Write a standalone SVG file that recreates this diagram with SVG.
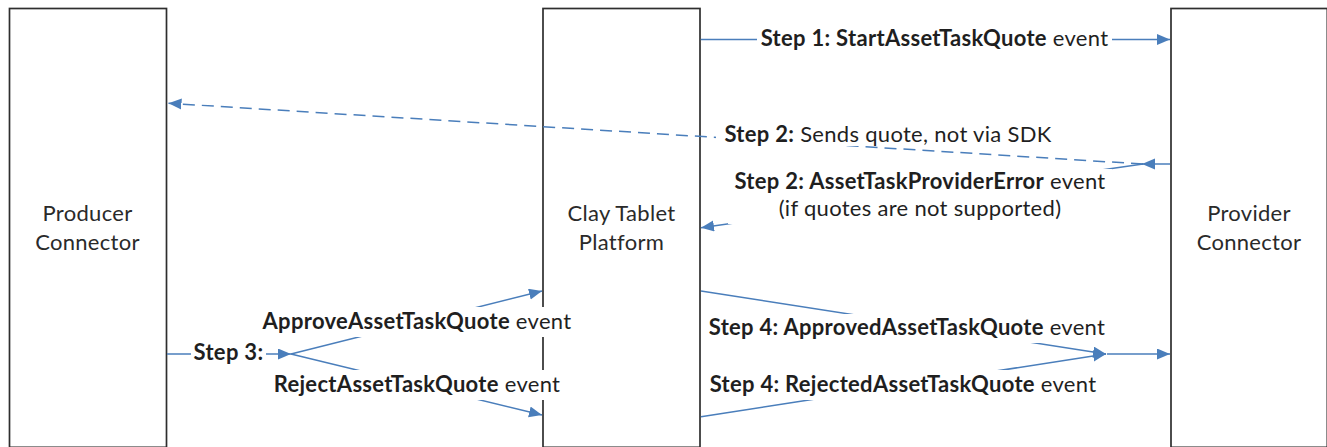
<svg xmlns="http://www.w3.org/2000/svg" width="1327" height="447" viewBox="0 0 1327 447">
<style>
  .box { fill: #ffffff; stroke: #2e2e2e; stroke-width: 1.7; }
  .conn { fill: none; stroke: #4A7EBB; stroke-width: 1.5; }
  .dash { stroke-dasharray: 12 7; }
  .bg { fill: #ffffff; stroke: none; }
  text { font-family: "Lato", "Carlito", "Liberation Sans", sans-serif; font-size: 22px; letter-spacing: 0.3px; fill: #1f1f1f; }
  .node { fill: #2a2a2a; text-anchor: middle; }
  .lbl { text-anchor: middle; }
  .b { font-weight: 700; }
</style>
<defs>
  <marker id="arrow" markerUnits="userSpaceOnUse" markerWidth="14" markerHeight="12" refX="13" refY="5.5" orient="auto" viewBox="0 0 14 12">
    <path d="M0,0 L13,5.5 L0,11 z" fill="#4A7EBB"/>
  </marker>
</defs>
<rect x="0" y="0" width="1327" height="447" fill="#ffffff"/>

<g id="producer-connector">
  <rect class="box" x="9.5" y="8.5" width="157" height="438.8"/>
  <text class="node" x="87.5" y="220.5">Producer</text>
  <text class="node" x="87.5" y="250">Connector</text>
</g>
<g id="clay-tablet-platform">
  <rect class="box" x="543" y="8.5" width="157" height="438.8"/>
  <text class="node" x="621.5" y="220.5">Clay Tablet</text>
  <text class="node" x="621.5" y="250">Platform</text>
</g>
<g id="provider-connector">
  <rect class="box" x="1171" y="8.5" width="156.3" height="438.8"/>
  <text class="node" x="1249" y="220.5">Provider</text>
  <text class="node" x="1249" y="250">Connector</text>
</g>

<g id="connectors">
  <path id="step1" class="conn" d="M700.8,39.5 L1170,39.5" marker-end="url(#arrow)"/>
  <path id="step2-in" class="conn" d="M1170,164 L1142,164" marker-end="url(#arrow)"/>
  <path id="step2-quote" class="conn dash" d="M1143,164 L168.5,103.3" marker-end="url(#arrow)"/>
  <path id="step2-error" class="conn" d="M1143,164 L701,227.8" marker-end="url(#arrow)"/>
  <path id="step3-in" class="conn" d="M167,354 L291,354" marker-end="url(#arrow)"/>
  <path id="step3-approve" class="conn" d="M291,354 L542,291" marker-end="url(#arrow)"/>
  <path id="step3-reject" class="conn" d="M291,354 L542,415" marker-end="url(#arrow)"/>
  <path id="step4-approved" class="conn" d="M701,291 L1106,354" marker-end="url(#arrow)"/>
  <path id="step4-rejected" class="conn" d="M701,416.7 L1106,354" marker-end="url(#arrow)"/>
  <path id="step4-out" class="conn" d="M1107,354 L1170,354" marker-end="url(#arrow)"/>

  <g id="label-step1">
    <rect class="bg" x="757" y="28" width="355" height="23"/>
    <text class="lbl" x="934.5" y="45.5"><tspan class="b">Step 1: StartAssetTaskQuote</tspan> event</text>
  </g>
  <g id="label-step2-quote">
    <rect class="bg" x="716" y="124" width="336" height="22"/>
    <text class="lbl" x="888" y="142"><tspan class="b">Step 2:</tspan> Sends quote, not via SDK</text>
  </g>
  <g id="label-step2-error">
    <rect class="bg" x="728" y="169" width="384" height="55"/>
    <text class="lbl" x="920" y="188.5"><tspan class="b">Step 2: AssetTaskProviderError</tspan> event</text>
    <text class="lbl" x="920" y="216">(if quotes are not supported)</text>
  </g>
  <g id="label-step3">
    <rect class="bg" x="191" y="340" width="75" height="28"/>
    <text class="lbl" x="228.5" y="360"><tspan class="b">Step 3:</tspan></text>
  </g>
  <g id="label-approve">
    <rect class="bg" x="257" y="307" width="321" height="30"/>
    <text class="lbl" x="417" y="328.5"><tspan class="b">ApproveAssetTaskQuote</tspan> event</text>
  </g>
  <g id="label-reject">
    <rect class="bg" x="268" y="370" width="298" height="30"/>
    <text class="lbl" x="417" y="391.5"><tspan class="b">RejectAssetTaskQuote</tspan> event</text>
  </g>
  <g id="label-step4-approved">
    <rect class="bg" x="704" y="314" width="407" height="29"/>
    <text class="lbl" x="907" y="335"><tspan class="b">Step 4: ApprovedAssetTaskQuote</tspan> event</text>
  </g>
  <g id="label-step4-rejected">
    <rect class="bg" x="706" y="370" width="394" height="30"/>
    <text class="lbl" x="903" y="391.5"><tspan class="b">Step 4: RejectedAssetTaskQuote</tspan> event</text>
  </g>
</g>
</svg>
